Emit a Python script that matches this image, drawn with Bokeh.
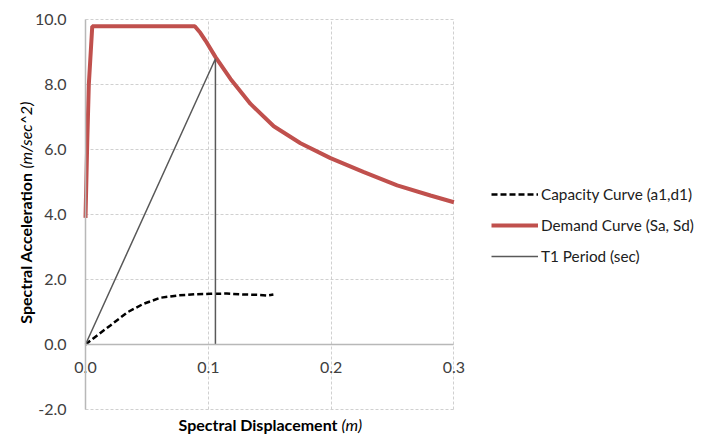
from bokeh.plotting import figure
from bokeh.models import (FixedTicker, NumeralTickFormatter, Range1d,
                          Legend, LegendItem, Label)
from bokeh.embed import file_html
from bokeh.resources import INLINE
import math

# ---- data ----
cap_sd = [0, 0.004, 0.0095, 0.02, 0.034, 0.047, 0.061, 0.075, 0.09, 0.102, 0.115, 0.129, 0.14, 0.148, 0.153]
cap_sa = [0, 0.12, 0.28, 0.58, 0.99, 1.25, 1.44, 1.51, 1.55, 1.56, 1.57, 1.54, 1.53, 1.51, 1.54]

dem_sd = [0, 0.0014, 0.0027, 0.0055, 0.089, 0.0935, 0.0977, 0.1059, 0.1181, 0.1344, 0.1533,
          0.1751, 0.1995, 0.2267, 0.2538, 0.2809, 0.3]
dem_sa = [3.9, 6.2, 8.0, 9.8, 9.8, 9.6, 9.36, 8.85, 8.18, 7.41, 6.72,
          6.2, 5.74, 5.31, 4.9, 4.59, 4.38]

t1_sd = [0, 0.1058, 0.1058]
t1_sa = [0, 8.8, 0]

x_ticks = [0, 0.1, 0.2, 0.3]
y_ticks = [-2, 0, 2, 4, 6, 8, 10]

legend_labels = ["Capacity Curve (a1,d1)", "Demand Curve (Sa, Sd)", "T1 Period (sec)"]

FONT = "Lato"
W, H = 704, 434
X0_PX, PX_PER_X = 85.0, 1228.0     # pixel of x=0, pixels per unit x
Y0_PX, PX_PER_Y = 344.0, 32.47     # pixel of y=0, pixels per unit y

def xd(px):
    return (px - X0_PX) / PX_PER_X

def yd(py):
    return (Y0_PX - py) / PX_PER_Y

p = figure(width=W, height=H, output_backend="svg", toolbar_location=None,
           x_range=Range1d(xd(0), xd(W)), y_range=Range1d(yd(H), yd(0)),
           min_border=0, min_border_left=0, min_border_right=0,
           min_border_top=0, min_border_bottom=0)
p.outline_line_color = None
p.background_fill_color = "white"
p.border_fill_color = "white"

# axes crossing at the origin
p.xaxis.fixed_location = 0
p.yaxis.fixed_location = 0
p.xaxis.bounds = (x_ticks[0], x_ticks[-1])
p.yaxis.bounds = (y_ticks[0], y_ticks[-1])
p.xaxis.ticker = FixedTicker(ticks=x_ticks)
p.yaxis.ticker = FixedTicker(ticks=y_ticks)
p.xaxis.formatter = NumeralTickFormatter(format="0.0")
p.yaxis.formatter = NumeralTickFormatter(format="0.0")
for ax in (p.xaxis, p.yaxis):
    ax.axis_line_color = "#B8B8B8"
    ax.axis_line_width = 1.5
    ax.major_tick_line_color = None
    ax.minor_tick_line_color = None
    ax.major_label_text_font = FONT
    ax.major_label_text_font_size = "16px"
    ax.major_label_text_color = "#404040"
p.yaxis.major_label_standoff = 13
p.xaxis.major_label_standoff = 11

# grid limited to plot area
p.xgrid.ticker = FixedTicker(ticks=x_ticks)
p.ygrid.ticker = FixedTicker(ticks=y_ticks)
p.xgrid.bounds = (x_ticks[0], x_ticks[-1])
p.ygrid.bounds = (y_ticks[0], y_ticks[-1])
p.xgrid.cross_bounds = (y_ticks[0], y_ticks[-1])
p.ygrid.cross_bounds = (x_ticks[0], x_ticks[-1])
for g in (p.xgrid, p.ygrid):
    g.grid_line_color = "#D0D0D0"
    g.grid_line_dash = "3 2"
    g.grid_line_width = 1

# series
r_cap = p.line(cap_sd, cap_sa, line_color="black", line_width=2.5, line_dash="6 3")
r_dem = p.line(dem_sd, dem_sa, line_color="#C0504D", line_width=4)
r_t1 = p.line(t1_sd, t1_sa, line_color="#595959", line_width=1.5)

legend = Legend(items=[LegendItem(label=legend_labels[0], renderers=[r_cap]),
                       LegendItem(label=legend_labels[1], renderers=[r_dem]),
                       LegendItem(label=legend_labels[2], renderers=[r_t1])],
                location=(491, 168))
legend.border_line_color = None
legend.background_fill_alpha = 0
legend.label_text_font = FONT
legend.label_text_font_size = "15.3px"
legend.label_text_color = "#202020"
legend.glyph_width = 47
legend.glyph_height = 20
legend.label_height = 20
legend.spacing = 11
legend.padding = 5
legend.margin = 0
legend.label_standoff = 3
p.add_layout(legend, "center")

# axis titles (bold + italic parts)
p.add_layout(Label(x=xd(25), y=yd(172), text="Spectral Acceleration", angle=math.pi / 2,
                   text_align="right", text_baseline="middle", text_font=FONT,
                   text_font_size="16px", text_font_style="bold", text_color="black"))
p.add_layout(Label(x=xd(25), y=yd(168), text="(m/sec^2)", angle=math.pi / 2,
                   text_align="left", text_baseline="middle", text_font=FONT,
                   text_font_size="16px", text_font_style="italic", text_color="black"))
p.add_layout(Label(x=xd(337), y=yd(424), text="Spectral Displacement",
                   text_align="right", text_baseline="middle", text_font=FONT,
                   text_font_size="16px", text_font_style="bold", text_color="black"))
p.add_layout(Label(x=xd(341), y=yd(424), text="(m)",
                   text_align="left", text_baseline="middle", text_font=FONT,
                   text_font_size="16px", text_font_style="italic", text_color="black"))

open("out.html", "w").write(file_html(p, INLINE))
